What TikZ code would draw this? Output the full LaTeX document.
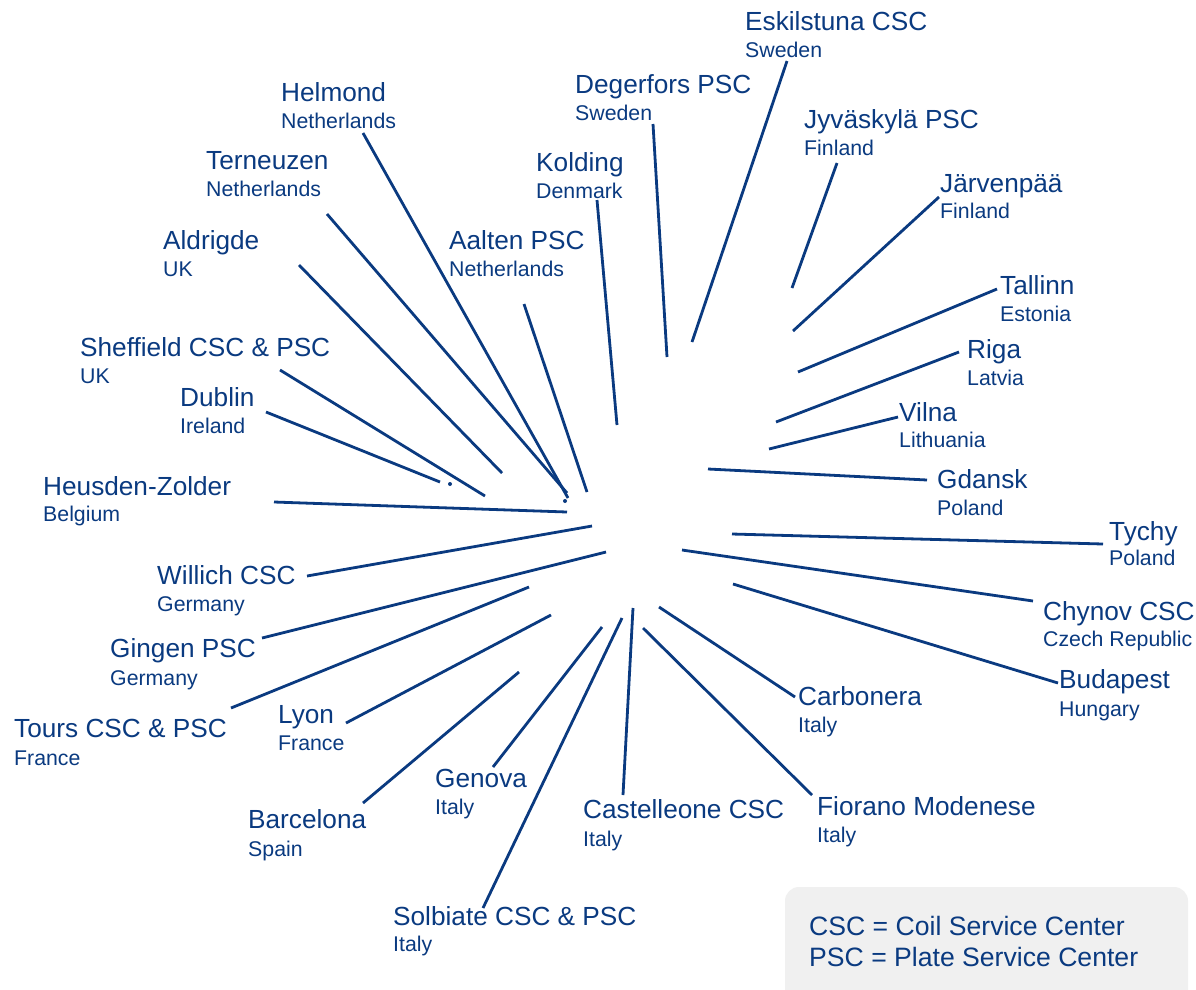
\documentclass[tikz,border=0pt]{standalone}
\usepackage{fontspec}
\setmainfont{Liberation Sans}
\definecolor{ssab}{HTML}{0A3A80}
\definecolor{legendgray}{HTML}{F0F0F0}
\tikzset{
  city/.style={anchor=base west, inner sep=0pt, text=ssab, font=\fontsize{26.2}{30}\selectfont},
  country/.style={anchor=base west, inner sep=0pt, text=ssab, font=\fontsize{21.3}{25}\selectfont},
  spoke/.style={draw=ssab, line width=2.8pt},
  legendbox/.style={fill=legendgray, rounded corners=14pt},
  legendtext/.style={anchor=base west, inner sep=0pt, text=ssab, font=\fontsize{26.6}{30}\selectfont},
}
\newcommand\mysite[6]{%
  \node[city] (#1c) at (#2,#3) {#5};
  \node[country] (#1n) at (#2,#4) {#6};
}
\newcommand\myspoke[5]{%
  \coordinate (#1a) at (#2,#3);
  \coordinate (#1b) at (#4,#5);
  \draw[spoke] (#1a) -- (#1b);
}
\begin{document}
\begin{tikzpicture}[x=1pt,y=-1pt]
\useasboundingbox (0,0) rectangle (1196,989);
\fill[white] (0,0) rectangle (1196,989);

% legend
\path[legendbox] (785,887) rectangle (1188,1010);
\node[legendtext] (leg1) at (809,935) {CSC = Coil Service Center};
\node[legendtext] (leg2) at (809,966) {PSC = Plate Service Center};

% labels
\mysite{esk}{745}{30}{57}{Eskilstuna CSC}{Sweden}
\mysite{deg}{575}{93}{120}{Degerfors PSC}{Sweden}
\mysite{jyv}{804}{128}{155}{Jyväskylä PSC}{Finland}
\mysite{hel}{281}{101}{128}{Helmond}{Netherlands}
\mysite{jar}{940}{192}{218}{Järvenpää}{Finland}
\mysite{ter}{206}{169}{196}{Terneuzen}{Netherlands}
\mysite{kol}{536}{171}{198}{Kolding}{Denmark}
\mysite{ald}{163}{249}{276}{Aldrigde}{UK}
\mysite{aal}{449}{249}{276}{Aalten PSC}{Netherlands}
\mysite{tal}{1000}{294}{321}{Tallinn}{Estonia}
\mysite{she}{80}{356}{383}{Sheffield CSC \& PSC}{UK}
\mysite{rig}{967}{358}{385}{Riga}{Latvia}
\mysite{dub}{180}{406}{433}{Dublin}{Ireland}
\mysite{vil}{899}{421}{447}{Vilna}{Lithuania}
\mysite{gda}{937}{488}{515}{Gdansk}{Poland}
\mysite{heu}{43}{495}{521}{Heusden-Zolder}{Belgium}
\mysite{tyc}{1109}{540}{565}{Tychy}{Poland}
\mysite{wil}{157}{584}{611}{Willich CSC}{Germany}
\mysite{chy}{1043}{620}{646}{Chynov CSC}{Czech Republic}
\mysite{gin}{110}{657}{685}{Gingen PSC}{Germany}
\mysite{bud}{1059}{688}{716}{Budapest}{Hungary}
\mysite{car}{798}{705}{732}{Carbonera}{Italy}
\mysite{tou}{14}{737}{765}{Tours CSC \& PSC}{France}
\mysite{lyo}{278}{723}{750}{Lyon}{France}
\mysite{gen}{435}{787}{814}{Genova}{Italy}
\mysite{cas}{583}{818}{846}{Castelleone CSC}{Italy}
\mysite{fio}{817}{815}{842}{Fiorano Modenese}{Italy}
\mysite{bar}{248}{828}{856}{Barcelona}{Spain}
\mysite{sol}{393}{925}{951}{Solbiate CSC \& PSC}{Italy}

% spokes
\myspoke{esk}{787}{61}{692}{342}
\myspoke{deg}{653}{124}{667}{357}
\myspoke{jyv}{837}{163}{792}{288}
\myspoke{hel}{363}{133}{568}{498}
\myspoke{jar}{939}{197}{793}{331}
\myspoke{ter}{327}{214}{567}{493}
\myspoke{kol}{597}{200}{617}{425}
\myspoke{ald}{299}{265}{502}{473}
\myspoke{aal}{524}{304}{587}{492}
\myspoke{tal}{997}{289}{798}{372}
\myspoke{she}{280}{370}{485}{496}
\myspoke{rig}{959}{352}{776}{422}
\myspoke{dub}{266}{412}{440}{482}
\myspoke{vil}{898}{417}{769}{449}
\myspoke{gda}{927}{480}{708}{469}
\myspoke{heu}{274}{502}{567}{512}
\myspoke{tyc}{1103}{544}{732}{534}
\myspoke{wil}{307}{576}{592}{526}
\myspoke{chy}{1033}{601}{682}{550}
\myspoke{gin}{262}{638}{606}{552}
\myspoke{bud}{1058}{683}{733}{584}
\myspoke{car}{795}{697}{659}{607}
\myspoke{tou}{231}{708}{529}{587}
\myspoke{lyo}{346}{723}{551}{615}
\myspoke{gen}{493}{767}{602}{627}
\myspoke{cas}{623}{795}{633}{608}
\myspoke{fio}{812}{795}{643}{628}
\myspoke{bar}{363}{803}{519}{672}
\myspoke{sol}{483}{908}{622}{618}

% small dots
\coordinate (dotA) at (450,484);
\coordinate (dotB) at (565,501);
\fill[ssab] (dotA) circle (2);
\fill[ssab] (dotB) circle (2);
\end{tikzpicture}
\end{document}
